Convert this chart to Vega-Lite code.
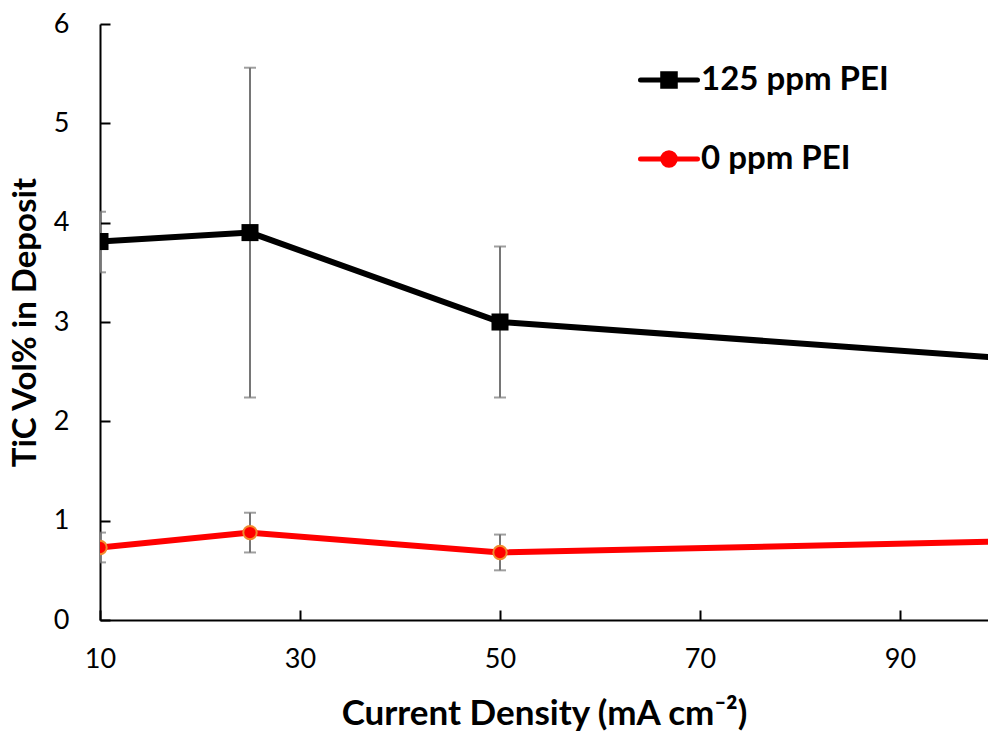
{
  "$schema": "https://vega.github.io/schema/vega-lite/v6.json",
  "width": 888,
  "height": 596,
  "autosize": {"type": "none"},
  "padding": {"left": 100, "top": 24, "right": 0, "bottom": 111},
  "background": "white",
  "config": {
    "view": {"stroke": null},
    "font": "Lato",
    "axis": {
      "grid": false,
      "domainColor": "#000000",
      "domainWidth": 2,
      "tickColor": "#000000",
      "tickWidth": 2,
      "labelColor": "#000000",
      "labelFont": "Lato",
      "labelFontSize": 27,
      "labelFlush": false,
      "titleColor": "#000000",
      "titleFont": "Lato",
      "titleFontSize": 33,
      "titleFontWeight": "bold"
    }
  },
  "data": {
    "values": [
      {"series": "125 ppm PEI", "x": 10, "y": 3.81, "lo": 3.50, "hi": 4.11},
      {"series": "125 ppm PEI", "x": 25, "y": 3.90, "lo": 2.24, "hi": 5.56},
      {"series": "125 ppm PEI", "x": 50, "y": 3.00, "lo": 2.24, "hi": 3.76},
      {"series": "125 ppm PEI", "x": 100, "y": 2.64, "lo": null, "hi": null},
      {"series": "0 ppm PEI", "x": 10, "y": 0.73, "lo": 0.58, "hi": 0.88},
      {"series": "0 ppm PEI", "x": 25, "y": 0.88, "lo": 0.68, "hi": 1.08},
      {"series": "0 ppm PEI", "x": 50, "y": 0.68, "lo": 0.50, "hi": 0.86},
      {"series": "0 ppm PEI", "x": 100, "y": 0.79, "lo": null, "hi": null}
    ]
  },
  "encoding": {
    "x": {
      "field": "x",
      "type": "quantitative",
      "scale": {"domain": [10, 98.8], "nice": false, "zero": false},
      "axis": {
        "values": [10, 30, 50, 70, 90],
        "format": "d",
        "tickSize": -10,
        "labelPadding": 36,
        "title": "Current Density (mA cm⁻²)",
        "titleFontSize": 35,
        "titleBaseline": "alphabetic",
        "titleY": 104
      }
    }
  },
  "layer": [
    {
      "mark": {"type": "rule", "color": "#767676", "strokeWidth": 2, "clip": true},
      "encoding": {
        "y": {"field": "lo", "type": "quantitative"},
        "y2": {"field": "hi"}
      }
    },
    {
      "mark": {"type": "tick", "orient": "horizontal", "color": "#767676", "size": 12, "thickness": 2, "clip": true},
      "encoding": {"y": {"field": "lo", "type": "quantitative"}}
    },
    {
      "mark": {"type": "tick", "orient": "horizontal", "color": "#767676", "size": 12, "thickness": 2, "clip": true},
      "encoding": {"y": {"field": "hi", "type": "quantitative"}}
    },
    {
      "mark": {"type": "line", "strokeWidth": 6, "clip": true},
      "encoding": {
        "y": {
          "field": "y",
          "type": "quantitative",
          "scale": {"domain": [0, 6], "nice": false},
          "axis": {
            "values": [0, 1, 2, 3, 4, 5, 6],
            "format": "d",
            "tickSize": -10,
            "labelPadding": 41,
            "title": "TiC Vol% in Deposit",
            "titleBaseline": "middle",
            "titleX": -75
          }
        },
        "color": {
          "field": "series",
          "type": "nominal",
          "scale": {"domain": ["125 ppm PEI", "0 ppm PEI"], "range": ["#000000", "#FF0000"]},
          "legend": {
            "orient": "none",
            "legendX": 538,
            "legendY": 25,
            "padding": 0,
            "title": null,
            "labelFont": "Lato",
            "labelFontSize": 33,
            "labelFontWeight": "bold",
            "labelColor": "#000000",
            "labelLimit": 400,
            "labelOffset": 1,
            "symbolSize": 3249,
            "symbolStrokeWidth": 5,
            "rowPadding": 31,
            "encode": {
              "symbols": {
                "update": {
                  "shape": {"signal": "datum.value === '125 ppm PEI' ? 'M-1,0H1M-0.22,-0.22H0.22V0.22H-0.22Z' : 'M-1,0H1M0.22,0A0.22,0.22 0 1,1 -0.22,0A0.22,0.22 0 1,1 0.22,0Z'"},
                  "stroke": {"signal": "datum.value === '125 ppm PEI' ? '#000000' : '#FF0000'"},
                  "fill": {"signal": "datum.value === '125 ppm PEI' ? '#000000' : '#FF0000'"},
                  "strokeWidth": {"value": 5},
                  "strokeCap": {"value": "round"},
                  "opacity": {"value": 1},
                  "fillOpacity": {"value": 1},
                  "strokeOpacity": {"value": 1}
                }
              }
            }
          }
        }
      }
    },
    {
      "transform": [{"filter": "datum.series === '125 ppm PEI'"}],
      "mark": {"type": "point", "shape": "square", "filled": true, "color": "#000000", "size": 290, "opacity": 1, "clip": true},
      "encoding": {"y": {"field": "y", "type": "quantitative"}}
    },
    {
      "transform": [{"filter": "datum.series === '0 ppm PEI'"}],
      "mark": {"type": "point", "shape": "circle", "filled": true, "fill": "#FF0000", "stroke": "#F08A2C", "strokeWidth": 2, "size": 180, "opacity": 1, "clip": true},
      "encoding": {"y": {"field": "y", "type": "quantitative"}}
    }
  ]
}
